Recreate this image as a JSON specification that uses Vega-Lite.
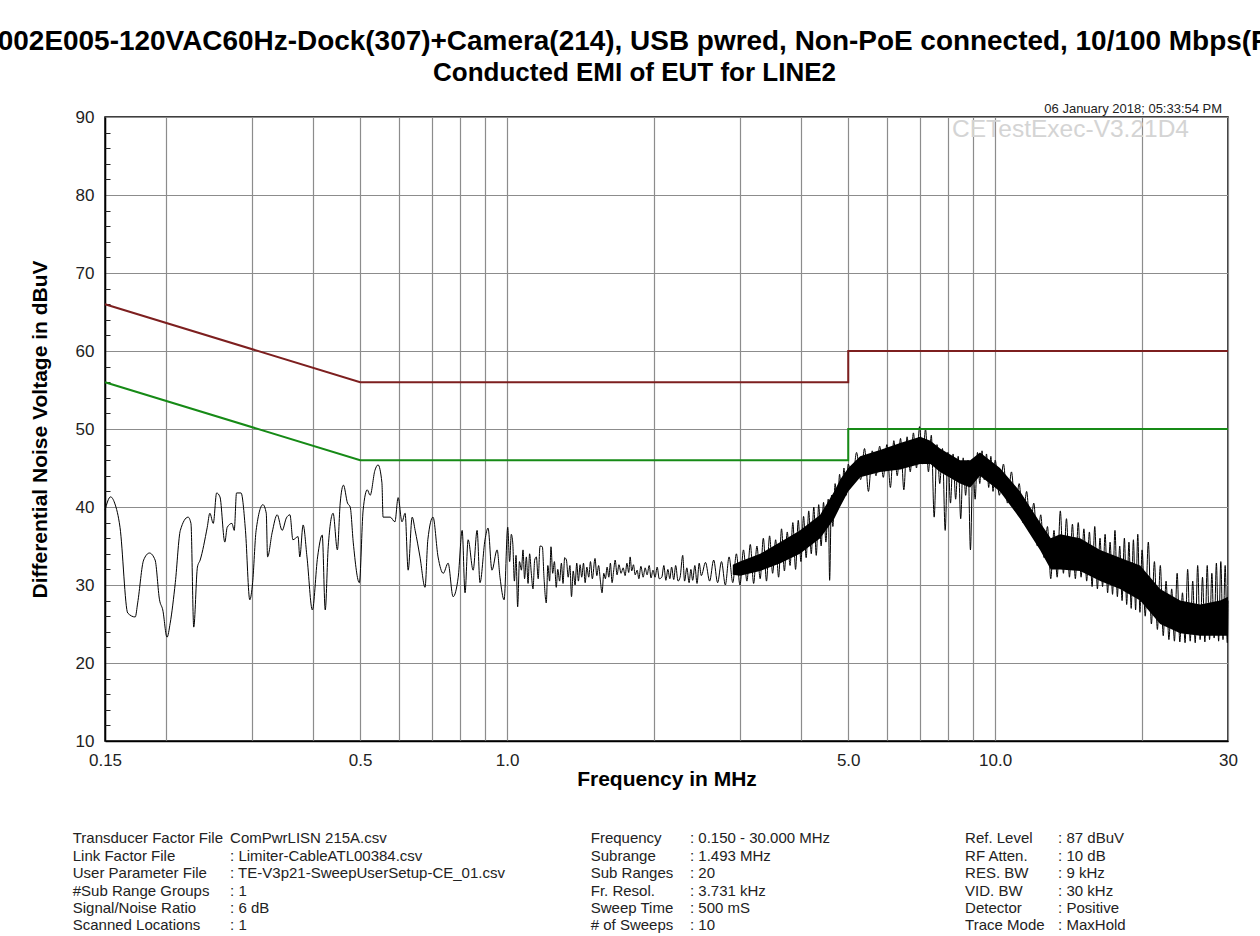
{
  "$schema": "https://vega.github.io/schema/vega-lite/v6.json",
  "width": 1123,
  "height": 624,
  "autosize": {"type": "none"},
  "padding": {"left": 105, "top": 117, "right": 32, "bottom": 195},
  "background": "white",
  "config": {"font": "Liberation Sans", "view": {"stroke": "#000", "strokeWidth": 1.5}},
  "title": {
    "text": "002E005-120VAC60Hz-Dock(307)+Camera(214), USB pwred, Non-PoE connected, 10/100 Mbps(R",
    "subtitle": "Conducted EMI of EUT for LINE2",
    "font": "Liberation Sans", "fontSize": 27.95, "fontWeight": "bold", "color": "#000",
    "subtitleFont": "Liberation Sans", "subtitleFontSize": 26, "subtitleFontWeight": "bold", "subtitleColor": "#000",
    "subtitlePadding": 4, "anchor": "middle", "dx": -32, "offset": 17
  },
  "resolve": {"axis": {"y": "independent"}},
  "datasets": {
    "limits": [
      {"limit": "QP", "i": 1, "f": 0.15, "dB": 66}, {"limit": "QP", "i": 2, "f": 0.5, "dB": 56},
      {"limit": "QP", "i": 3, "f": 5, "dB": 56}, {"limit": "QP", "i": 4, "f": 5, "dB": 60},
      {"limit": "QP", "i": 5, "f": 30, "dB": 60},
      {"limit": "AV", "i": 1, "f": 0.15, "dB": 56}, {"limit": "AV", "i": 2, "f": 0.5, "dB": 46},
      {"limit": "AV", "i": 3, "f": 5, "dB": 46}, {"limit": "AV", "i": 4, "f": 5, "dB": 50},
      {"limit": "AV", "i": 5, "f": 30, "dB": 50}
    ],
    "band": [
      {"f": 2.9, "lo": 31.3, "hi": 32.6}, {"f": 3.0, "lo": 31.2, "hi": 33.0},
      {"f": 3.3, "lo": 31.8, "hi": 34.0}, {"f": 3.63, "lo": 32.8, "hi": 35.5}, {"f": 3.98, "lo": 34.0, "hi": 37.0},
      {"f": 4.38, "lo": 36.0, "hi": 39.0}, {"f": 4.68, "lo": 38.5, "hi": 42.0}, {"f": 4.81, "lo": 40.0, "hi": 43.5},
      {"f": 5.0, "lo": 42.0, "hi": 45.0}, {"f": 5.29, "lo": 43.8, "hi": 46.5}, {"f": 5.81, "lo": 44.5, "hi": 47.3},
      {"f": 6.39, "lo": 44.8, "hi": 48.2}, {"f": 7.02, "lo": 45.5, "hi": 49.0}, {"f": 7.37, "lo": 45.5, "hi": 48.5},
      {"f": 7.71, "lo": 44.5, "hi": 47.5}, {"f": 8.47, "lo": 43.0, "hi": 46.0}, {"f": 8.89, "lo": 42.5, "hi": 46.0},
      {"f": 9.31, "lo": 44.0, "hi": 47.0}, {"f": 10.23, "lo": 42.0, "hi": 45.0}, {"f": 11.25, "lo": 38.5, "hi": 42.0},
      {"f": 12.36, "lo": 34.5, "hi": 38.0}, {"f": 13.0, "lo": 32.0, "hi": 36.0}, {"f": 13.59, "lo": 32.0, "hi": 36.5},
      {"f": 14.93, "lo": 31.8, "hi": 36.0}, {"f": 16.41, "lo": 30.5, "hi": 34.5}, {"f": 18.03, "lo": 29.5, "hi": 33.5},
      {"f": 19.82, "lo": 28.0, "hi": 32.5}, {"f": 21.78, "lo": 25.0, "hi": 29.5}, {"f": 23.94, "lo": 23.8, "hi": 28.0},
      {"f": 26.31, "lo": 23.5, "hi": 27.5}, {"f": 28.91, "lo": 23.5, "hi": 28.0}, {"f": 30.0, "lo": 23.5, "hi": 28.5}
    ],
    "trace": [
      {"f":0.150,"dB":39.6},{"f":0.154,"dB":41.3},{"f":0.157,"dB":40.5},{"f":0.161,"dB":37.4},{"f":0.167,"dB":26.4},
      {"f":0.173,"dB":25.9},{"f":0.175,"dB":27.7},{"f":0.180,"dB":33.2},{"f":0.185,"dB":34.1},{"f":0.190,"dB":33.2},
      {"f":0.194,"dB":28.1},{"f":0.197,"dB":26.8},{"f":0.201,"dB":23.3},{"f":0.204,"dB":25.1},{"f":0.209,"dB":30.3},
      {"f":0.214,"dB":37.0},{"f":0.222,"dB":38.7},{"f":0.225,"dB":37.9},{"f":0.228,"dB":24.6},{"f":0.232,"dB":32.3},
      {"f":0.235,"dB":33.2},{"f":0.243,"dB":37.4},{"f":0.246,"dB":39.2},{"f":0.250,"dB":37.9},{"f":0.254,"dB":41.8},
      {"f":0.258,"dB":41.3},{"f":0.264,"dB":35.5},{"f":0.267,"dB":37.4},{"f":0.273,"dB":37.9},{"f":0.276,"dB":37.0},
      {"f":0.279,"dB":41.8},{"f":0.285,"dB":41.8},{"f":0.291,"dB":37.0},{"f":0.297,"dB":28.1},{"f":0.301,"dB":30.3},
      {"f":0.306,"dB":37.0},{"f":0.316,"dB":40.3},{"f":0.321,"dB":39.2},{"f":0.323,"dB":33.6},{"f":0.330,"dB":36.7},
      {"f":0.338,"dB":39.0},{"f":0.346,"dB":37.0},{"f":0.353,"dB":38.6},{"f":0.359,"dB":39.0},{"f":0.364,"dB":35.8},
      {"f":0.373,"dB":36.2},{"f":0.376,"dB":33.6},{"f":0.382,"dB":37.7},{"f":0.389,"dB":33.6},{"f":0.399,"dB":26.8},
      {"f":0.409,"dB":33.6},{"f":0.418,"dB":36.4},{"f":0.424,"dB":26.8},{"f":0.430,"dB":34.9},{"f":0.440,"dB":39.2},
      {"f":0.449,"dB":34.5},{"f":0.455,"dB":40.5},{"f":0.462,"dB":42.8},{"f":0.471,"dB":40.5},{"f":0.477,"dB":40.0},
      {"f":0.484,"dB":35.4},{"f":0.498,"dB":30.3},{"f":0.507,"dB":39.6},{"f":0.517,"dB":42.2},{"f":0.524,"dB":41.5},
      {"f":0.536,"dB":44.7},{"f":0.544,"dB":45.4},{"f":0.554,"dB":43.1},{"f":0.557,"dB":38.7},{"f":0.576,"dB":38.7},
      {"f":0.589,"dB":38.1},{"f":0.598,"dB":41.2},{"f":0.609,"dB":38.1},{"f":0.618,"dB":39.2},{"f":0.627,"dB":31.9},
      {"f":0.639,"dB":38.7},{"f":0.648,"dB":37.0},{"f":0.663,"dB":33.6},{"f":0.679,"dB":29.7},{"f":0.688,"dB":35.8},
      {"f":0.705,"dB":38.7},{"f":0.722,"dB":33.6},{"f":0.740,"dB":31.5},{"f":0.757,"dB":32.8},{"f":0.775,"dB":28.5},
      {"f":0.794,"dB":31.0},{"f":0.809,"dB":37.0},{"f":0.820,"dB":29.0},{"f":0.832,"dB":35.8},{"f":0.852,"dB":31.9},
      {"f":0.868,"dB":37.0},{"f":0.880,"dB":30.3},{"f":0.901,"dB":35.8},{"f":0.914,"dB":37.3},{"f":0.931,"dB":31.9},
      {"f":0.954,"dB":34.5},{"f":0.967,"dB":31.0},{"f":0.986,"dB":28.1},
      {"f":1.003,"dB":37.4},{"f":1.012,"dB":33.0},{"f":1.020,"dB":36.5},{"f":1.027,"dB":35.4},{"f":1.035,"dB":30.5},
      {"f":1.043,"dB":33.8},{"f":1.051,"dB":27.2},{"f":1.060,"dB":33.0},{"f":1.070,"dB":31.9},{"f":1.078,"dB":34.5},
      {"f":1.086,"dB":30.8},{"f":1.095,"dB":33.6},{"f":1.104,"dB":30.2},{"f":1.112,"dB":34.0},{"f":1.121,"dB":31.5},
      {"f":1.130,"dB":29.5},{"f":1.139,"dB":33.2},{"f":1.148,"dB":33.6},{"f":1.158,"dB":30.8},{"f":1.168,"dB":35.0},
      {"f":1.181,"dB":34.9},{"f":1.190,"dB":31.0},{"f":1.203,"dB":27.7},{"f":1.212,"dB":32.5},{"f":1.222,"dB":30.5},
      {"f":1.230,"dB":34.9},{"f":1.240,"dB":31.5},{"f":1.250,"dB":33.0},{"f":1.261,"dB":29.7},{"f":1.270,"dB":32.0},
      {"f":1.281,"dB":30.5},{"f":1.292,"dB":32.8},{"f":1.302,"dB":30.2},{"f":1.312,"dB":33.5},{"f":1.323,"dB":33.2},
      {"f":1.334,"dB":31.0},{"f":1.345,"dB":32.5},{"f":1.355,"dB":28.5},{"f":1.366,"dB":31.8},{"f":1.378,"dB":30.0},
      {"f":1.389,"dB":32.8},{"f":1.400,"dB":30.5},{"f":1.411,"dB":32.6},{"f":1.422,"dB":31.0},{"f":1.434,"dB":32.8},
      {"f":1.445,"dB":30.3},{"f":1.457,"dB":32.3},{"f":1.470,"dB":31.0},{"f":1.482,"dB":33.0},{"f":1.495,"dB":30.8},
      {"f":1.514,"dB":33.4},{"f":1.527,"dB":31.2},{"f":1.540,"dB":32.5},{"f":1.553,"dB":30.5},{"f":1.565,"dB":29.0},
      {"f":1.578,"dB":31.5},{"f":1.590,"dB":30.8},{"f":1.603,"dB":32.3},{"f":1.616,"dB":31.0},{"f":1.628,"dB":32.8},
      {"f":1.641,"dB":30.3},{"f":1.653,"dB":31.8},{"f":1.665,"dB":33.2},{"f":1.680,"dB":31.3},{"f":1.695,"dB":32.6},
      {"f":1.712,"dB":31.5},{"f":1.729,"dB":32.2},{"f":1.745,"dB":31.2},{"f":1.760,"dB":32.8},{"f":1.775,"dB":31.6},
      {"f":1.787,"dB":33.6},{"f":1.800,"dB":31.8},{"f":1.815,"dB":32.6},{"f":1.830,"dB":31.3},{"f":1.847,"dB":31.9},
      {"f":1.862,"dB":30.8},{"f":1.880,"dB":32.4},{"f":1.900,"dB":31.0},{"f":1.918,"dB":32.2},{"f":1.936,"dB":31.3},
      {"f":1.955,"dB":32.5},{"f":1.972,"dB":30.9},{"f":1.990,"dB":31.9},{"f":2.010,"dB":31.0},{"f":2.030,"dB":32.3},
      {"f":2.050,"dB":30.8},{"f":2.075,"dB":31.0},{"f":2.095,"dB":32.5},{"f":2.115,"dB":30.6},{"f":2.135,"dB":32.0},
      {"f":2.155,"dB":30.8},{"f":2.173,"dB":32.3},{"f":2.195,"dB":30.7},{"f":2.215,"dB":32.5},{"f":2.240,"dB":30.5},
      {"f":2.262,"dB":31.0},{"f":2.290,"dB":33.8},{"f":2.310,"dB":30.5},{"f":2.335,"dB":32.2},{"f":2.360,"dB":30.3},
      {"f":2.380,"dB":32.0},{"f":2.400,"dB":30.6},{"f":2.425,"dB":32.5},{"f":2.450,"dB":30.2},{"f":2.475,"dB":32.8},
      {"f":2.50,"dB":31.2},{"f":2.55,"dB":32.9},{"f":2.60,"dB":30.5},{"f":2.65,"dB":33.2},{"f":2.70,"dB":30.3},
      {"f":2.75,"dB":33.0},{"f":2.80,"dB":30.0},{"f":2.85,"dB":33.6},{"f":2.90,"dB":30.3},{"f":2.95,"dB":34.0},
      {"f":3.00,"dB":30.0},{"f":3.05,"dB":34.5},{"f":3.10,"dB":30.5},{"f":3.15,"dB":35.2},{"f":3.20,"dB":30.2},
      {"f":3.25,"dB":35.0},{"f":3.30,"dB":30.8},{"f":3.35,"dB":36.0},{"f":3.40,"dB":30.5},{"f":3.45,"dB":36.3},
      {"f":3.50,"dB":31.5},{"f":3.55,"dB":35.8},{"f":3.60,"dB":31.0},{"f":3.65,"dB":37.2},{"f":3.70,"dB":31.8},
      {"f":3.75,"dB":36.8},{"f":3.80,"dB":32.5},{"f":3.85,"dB":38.0},{"f":3.90,"dB":32.0},{"f":3.95,"dB":38.3},
      {"f":4.00,"dB":33.0},{"f":4.05,"dB":38.8},{"f":4.10,"dB":33.5},{"f":4.15,"dB":39.5},{"f":4.20,"dB":34.0},
      {"f":4.25,"dB":40.0},{"f":4.30,"dB":33.8},{"f":4.35,"dB":40.3},{"f":4.40,"dB":35.0},{"f":4.45,"dB":40.6},
      {"f":4.50,"dB":35.5},{"f":4.55,"dB":41.0},{"f":4.58,"dB":30.6},{"f":4.62,"dB":41.5},{"f":4.65,"dB":37.5},
      {"f":4.70,"dB":43.0},{"f":4.75,"dB":39.5},{"f":4.80,"dB":44.2},{"f":4.85,"dB":41.0},{"f":4.90,"dB":45.0},
      {"f":4.95,"dB":41.5},{"f":5.00,"dB":45.5},{"f":5.1,"dB":43.0},{"f":5.2,"dB":47.0},{"f":5.3,"dB":43.5},
      {"f":5.4,"dB":47.5},{"f":5.5,"dB":42.0},{"f":5.6,"dB":47.2},{"f":5.7,"dB":44.0},{"f":5.8,"dB":47.8},
      {"f":5.9,"dB":43.8},{"f":6.0,"dB":48.0},{"f":6.1,"dB":42.5},{"f":6.2,"dB":48.5},{"f":6.3,"dB":44.0},
      {"f":6.4,"dB":48.8},{"f":6.5,"dB":42.2},{"f":6.6,"dB":49.0},{"f":6.7,"dB":44.5},{"f":6.8,"dB":49.5},
      {"f":6.9,"dB":45.0},{"f":7.0,"dB":50.3},{"f":7.1,"dB":45.5},{"f":7.2,"dB":50.0},{"f":7.3,"dB":44.5},
      {"f":7.4,"dB":49.2},{"f":7.5,"dB":38.7},{"f":7.6,"dB":48.0},{"f":7.7,"dB":43.0},{"f":7.8,"dB":47.5},
      {"f":7.9,"dB":37.0},{"f":8.0,"dB":47.0},{"f":8.1,"dB":40.5},{"f":8.2,"dB":46.8},{"f":8.3,"dB":41.0},
      {"f":8.4,"dB":46.5},{"f":8.5,"dB":38.5},{"f":8.6,"dB":46.3},{"f":8.7,"dB":41.5},{"f":8.8,"dB":46.0},
      {"f":8.9,"dB":34.5},{"f":9.0,"dB":45.5},{"f":9.1,"dB":41.0},{"f":9.2,"dB":47.0},{"f":9.3,"dB":43.0},
      {"f":9.4,"dB":47.2},{"f":9.5,"dB":43.5},{"f":9.6,"dB":46.8},{"f":9.7,"dB":42.5},{"f":9.8,"dB":46.5},
      {"f":9.9,"dB":42.0},{"f":10.0,"dB":46.0},{"f":10.2,"dB":41.5},{"f":10.4,"dB":45.5},{"f":10.6,"dB":40.5},
      {"f":10.8,"dB":44.5},{"f":11.0,"dB":39.5},{"f":11.2,"dB":43.0},{"f":11.4,"dB":38.0},{"f":11.6,"dB":42.0},
      {"f":11.8,"dB":37.0},{"f":12.0,"dB":40.5},{"f":12.2,"dB":35.0},{"f":12.4,"dB":39.0},{"f":12.6,"dB":33.5},
      {"f":12.8,"dB":37.5},{"f":13.0,"dB":30.8},{"f":13.2,"dB":37.0},{"f":13.4,"dB":31.0},{"f":13.6,"dB":39.5},
      {"f":13.8,"dB":31.5},{"f":14.0,"dB":38.5},{"f":14.2,"dB":31.0},{"f":14.4,"dB":37.8},{"f":14.6,"dB":30.8},
      {"f":14.8,"dB":38.0},{"f":15.0,"dB":31.0},{"f":15.2,"dB":37.2},{"f":15.4,"dB":30.5},{"f":15.6,"dB":36.8},
      {"f":15.8,"dB":29.8},{"f":16.0,"dB":37.5},{"f":16.2,"dB":29.5},{"f":16.4,"dB":36.0},{"f":16.6,"dB":29.8},
      {"f":16.8,"dB":36.5},{"f":17.0,"dB":29.0},{"f":17.2,"dB":35.5},{"f":17.4,"dB":28.8},{"f":17.6,"dB":37.0},
      {"f":17.8,"dB":28.5},{"f":18.0,"dB":35.0},{"f":18.2,"dB":28.0},{"f":18.4,"dB":36.0},{"f":18.6,"dB":27.5},
      {"f":18.8,"dB":35.5},{"f":19.0,"dB":27.0},{"f":19.2,"dB":35.8},{"f":19.4,"dB":26.8},{"f":19.6,"dB":36.5},
      {"f":19.8,"dB":26.5},{"f":20.0,"dB":34.5},{"f":20.3,"dB":26.0},{"f":20.6,"dB":35.5},{"f":20.9,"dB":25.0},
      {"f":21.2,"dB":33.0},{"f":21.5,"dB":24.3},{"f":21.8,"dB":32.5},{"f":22.1,"dB":23.5},{"f":22.4,"dB":30.5},
      {"f":22.7,"dB":23.0},{"f":23.0,"dB":29.5},{"f":23.3,"dB":22.8},{"f":23.6,"dB":31.5},{"f":23.9,"dB":22.7},
      {"f":24.2,"dB":29.0},{"f":24.5,"dB":22.6},{"f":24.8,"dB":32.0},{"f":25.1,"dB":22.8},{"f":25.4,"dB":30.5},
      {"f":25.7,"dB":22.6},{"f":26.0,"dB":32.5},{"f":26.3,"dB":23.0},{"f":26.6,"dB":31.0},{"f":26.9,"dB":22.7},
      {"f":27.2,"dB":32.5},{"f":27.5,"dB":23.0},{"f":27.8,"dB":31.5},{"f":28.1,"dB":23.2},{"f":28.4,"dB":32.8},
      {"f":28.7,"dB":22.8},{"f":29.0,"dB":33.0},{"f":29.3,"dB":23.0},{"f":29.6,"dB":32.5},{"f":29.9,"dB":22.6},
      {"f":30.0,"dB":28.0}
    ]
  },
  "layer": [
    {
      "data": {"name": "band"},
      "mark": {"type": "area", "color": "#000", "opacity": 1},
      "encoding": {
        "x": {
          "field": "f", "type": "quantitative", "title": "Frequency in MHz",
          "scale": {"type": "log", "domain": [0.15, 30], "nice": false},
          "axis": {
            "values": [0.15, 0.2, 0.3, 0.4, 0.5, 0.6, 0.7, 0.8, 0.9, 1, 2, 3, 4, 5, 6, 7, 8, 9, 10, 20, 30],
            "grid": true, "gridColor": "#8c8c8c", "gridWidth": 1.2, "ticks": false,
            "domainColor": "#000", "domainWidth": 1.5,
            "labelExpr": "datum.value == 0.15 ? '0.15' : datum.value == 0.5 ? '0.5' : datum.value == 1 ? '1.0' : datum.value == 5 ? '5.0' : datum.value == 10 ? '10.0' : datum.value == 30 ? '30' : ''",
            "labelOverlap": false, "labelFlush": false, "labelFont": "Liberation Sans", "labelFontSize": 17,
            "labelColor": "#222", "labelPadding": 11,
            "titleFont": "Liberation Sans", "titleFontSize": 21, "titleFontWeight": "bold", "titleColor": "#000", "titlePadding": 0
          }
        },
        "y": {
          "field": "lo", "type": "quantitative", "title": "Differential Noise Voltage in dBuV",
          "scale": {"domain": [10, 90], "nice": false},
          "axis": {
            "orient": "left",
            "values": [10, 20, 30, 40, 50, 60, 70, 80, 90],
            "grid": true, "gridColor": "#8c8c8c", "gridWidth": 1.2, "ticks": false,
            "domainColor": "#000", "domainWidth": 1.5,
            "labelOverlap": false, "labelFont": "Liberation Sans", "labelFontSize": 17, "labelColor": "#222", "labelPadding": 11,
            "titleFont": "Liberation Sans", "titleFontSize": 21, "titleFontWeight": "bold", "titleColor": "#000", "titlePadding": 25
          }
        },
        "y2": {"field": "hi"}
      }
    },
    {
      "data": {"name": "trace"},
      "mark": {"type": "line", "color": "#000", "strokeWidth": 1, "interpolate": "monotone"},
      "encoding": {
        "x": {"field": "f", "type": "quantitative", "title": "Frequency in MHz", "scale": {"type": "log", "domain": [0.15, 30], "nice": false}},
        "y": {
          "field": "dB", "type": "quantitative", "scale": {"domain": [10, 90], "nice": false},
          "axis": {
            "orient": "left", "title": null,
            "values": [12,14,16,18,22,24,26,28,32,34,36,38,42,44,46,48,52,54,56,58,62,64,66,68,72,74,76,78,82,84,86,88],
            "ticks": true, "tickSize": -5, "tickColor": "#222", "tickWidth": 1,
            "labels": false, "grid": false, "domain": false
          }
        }
      }
    },
    {
      "data": {"name": "limits"},
      "mark": {"type": "line", "strokeWidth": 2},
      "encoding": {
        "x": {"field": "f", "type": "quantitative", "title": "Frequency in MHz", "scale": {"type": "log", "domain": [0.15, 30], "nice": false}},
        "y": {"field": "dB", "type": "quantitative", "scale": {"domain": [10, 90], "nice": false}, "axis": null},
        "color": {"field": "limit", "type": "nominal", "scale": {"domain": ["QP", "AV"], "range": ["#7d1f1f", "#168a16"]}, "legend": null},
        "order": {"field": "i", "type": "quantitative"}
      }
    },
    {
      "data": {"values": [{}]},
      "mark": {"type": "text", "align": "right", "baseline": "middle", "font": "Liberation Sans", "fontSize": 13, "color": "#222"},
      "encoding": {
        "x": {"datum": 29.18, "type": "quantitative"},
        "y": {"datum": 91.0, "type": "quantitative", "axis": null},
        "text": {"value": "06 January 2018; 05:33:54 PM"}
      }
    },
    {
      "data": {"values": [{}]},
      "mark": {"type": "text", "align": "left", "baseline": "middle", "font": "Liberation Sans", "fontSize": 24.5, "color": "#d4d4d4"},
      "encoding": {
        "x": {"datum": 8.16, "type": "quantitative"},
        "y": {"datum": 88.35, "type": "quantitative", "axis": null},
        "text": {"value": "CETestExec-V3.21D4"}
      }
    },
    {
      "data": {"values": [{}]},
      "mark": {"type": "text", "align": "left", "baseline": "alphabetic", "font": "Liberation Sans", "fontSize": 15, "lineHeight": 17.4, "color": "#222"},
      "encoding": {
        "x": {"datum": 0.1288, "type": "quantitative"},
        "y": {"datum": -3.13, "type": "quantitative", "axis": null},
        "text": {"value": ["Transducer Factor File", "Link Factor File", "User Parameter File", "#Sub Range Groups", "Signal/Noise Ratio", "Scanned Locations"]}
      }
    },
    {
      "data": {"values": [{}]},
      "mark": {"type": "text", "align": "left", "baseline": "alphabetic", "font": "Liberation Sans", "fontSize": 15, "lineHeight": 17.4, "color": "#222"},
      "encoding": {
        "x": {"datum": 0.2706, "type": "quantitative"},
        "y": {"datum": -3.13, "type": "quantitative", "axis": null},
        "text": {"value": ["\u00a0\u00a0ComPwrLISN 215A.csv", ": Limiter-CableATL00384.csv", ": TE-V3p21-SweepUserSetup-CE_01.csv", ": 1", ": 6 dB", ": 1"]}
      }
    },
    {
      "data": {"values": [{}]},
      "mark": {"type": "text", "align": "left", "baseline": "alphabetic", "font": "Liberation Sans", "fontSize": 15, "lineHeight": 17.4, "color": "#222"},
      "encoding": {
        "x": {"datum": 1.4838, "type": "quantitative"},
        "y": {"datum": -3.13, "type": "quantitative", "axis": null},
        "text": {"value": ["Frequency", "Subrange", "Sub Ranges", "Fr. Resol.", "Sweep Time", "# of Sweeps"]}
      }
    },
    {
      "data": {"values": [{}]},
      "mark": {"type": "text", "align": "left", "baseline": "alphabetic", "font": "Liberation Sans", "fontSize": 15, "lineHeight": 17.4, "color": "#222"},
      "encoding": {
        "x": {"datum": 2.37, "type": "quantitative"},
        "y": {"datum": -3.13, "type": "quantitative", "axis": null},
        "text": {"value": [": 0.150 - 30.000 MHz", ": 1.493 MHz", ": 20", ": 3.731 kHz", ": 500 mS", ": 10"]}
      }
    },
    {
      "data": {"values": [{}]},
      "mark": {"type": "text", "align": "left", "baseline": "alphabetic", "font": "Liberation Sans", "fontSize": 15, "lineHeight": 17.4, "color": "#222"},
      "encoding": {
        "x": {"datum": 8.678, "type": "quantitative"},
        "y": {"datum": -3.13, "type": "quantitative", "axis": null},
        "text": {"value": ["Ref. Level", "RF Atten.", "RES. BW", "VID. BW", "Detector", "Trace Mode"]}
      }
    },
    {
      "data": {"values": [{}]},
      "mark": {"type": "text", "align": "left", "baseline": "alphabetic", "font": "Liberation Sans", "fontSize": 15, "lineHeight": 17.4, "color": "#222"},
      "encoding": {
        "x": {"datum": 13.46, "type": "quantitative"},
        "y": {"datum": -3.13, "type": "quantitative", "axis": null},
        "text": {"value": [": 87 dBuV", ": 10 dB", ": 9 kHz", ": 30 kHz", ": Positive", ": MaxHold"]}
      }
    }
  ]
}
